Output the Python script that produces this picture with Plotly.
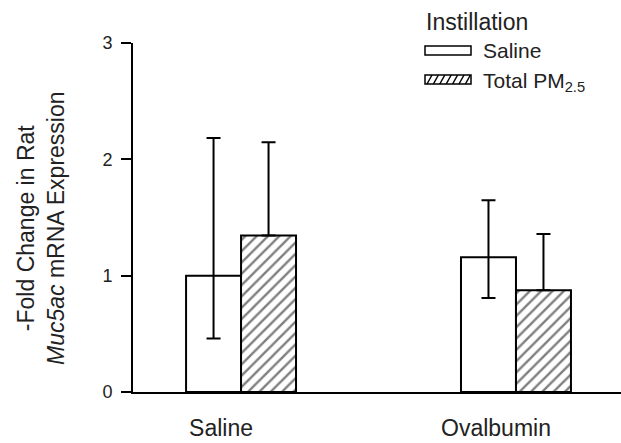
import plotly.graph_objects as go

categories = ["Saline", "Ovalbumin"]
series_names = ["Saline", "Total PM<sub>2.5</sub>"]
saline_vals = [1.00, 1.158]
saline_err_plus = [1.184, 0.49]
saline_err_minus = [0.54, 0.349]
pm_vals = [1.345, 0.875]
pm_err_plus = [0.801, 0.484]
pm_err_minus = [0.0, 0.0]
y_ticks = [0, 1, 2, 3]

FONT = "Liberation Sans, Arial, Helvetica, sans-serif"

fig = go.Figure()
fig.add_trace(go.Bar(
    x=categories, y=saline_vals, name=series_names[0],
    marker=dict(color="white", line=dict(color="black", width=2)),
    error_y=dict(type="data", array=saline_err_plus, arrayminus=saline_err_minus,
                 symmetric=False, color="black", thickness=2, width=7),
    showlegend=False,
))
fig.add_trace(go.Bar(
    x=categories, y=pm_vals, name=series_names[1],
    marker=dict(color="white", line=dict(color="black", width=2),
                pattern=dict(shape="/", fgcolor="black", bgcolor="white", size=8, solidity=0.3)),
    error_y=dict(type="data", array=pm_err_plus, arrayminus=pm_err_minus,
                 symmetric=False, color="black", thickness=2, width=7),
    showlegend=False,
))

L, T, B = 133, 43, 51
W, H = 621, 443
pw, ph = W - L, H - T - B

def px(x):
    return (x - L) / pw

def py(y):
    return (H - B - y) / ph

shapes = []
# legend swatches
shapes.append(dict(type="rect", xref="paper", yref="paper", x0=px(425), x1=px(471), y0=py(55), y1=py(46),
                   line=dict(color="black", width=1.5), fillcolor="white"))
shapes.append(dict(type="rect", xref="paper", yref="paper", x0=px(425), x1=px(471), y0=py(84), y1=py(75),
                   line=dict(color="black", width=1.5), fillcolor="white"))
for i in range(7):
    x0 = 427 + i * 6.4
    shapes.append(dict(type="line", xref="paper", yref="paper", x0=px(x0), x1=px(x0 + 5), y0=py(84), y1=py(75),
                       line=dict(color="black", width=1.5)))

annotations = [
    dict(text="Instillation", xref="paper", yref="paper", x=px(424), y=py(22), xanchor="left", yanchor="middle",
         showarrow=False, font=dict(size=23, color="#222", family=FONT)),
    dict(text=series_names[0], xref="paper", yref="paper", x=px(481), y=py(51), xanchor="left", yanchor="middle",
         showarrow=False, font=dict(size=21, color="#222", family=FONT)),
    dict(text="Total PM<sub>2.5</sub>", xref="paper", yref="paper", x=px(481), y=py(82), xanchor="left", yanchor="middle",
         showarrow=False, font=dict(size=21, color="#222", family=FONT)),
    dict(text="-Fold Change in Rat<br><i>Muc5ac</i> mRNA Expression", xref="paper", yref="paper",
         x=px(41), y=py(228), xanchor="center", yanchor="middle", textangle=-90,
         showarrow=False, font=dict(size=23, color="#222", family=FONT)),
]

fig.update_layout(
    width=W, height=H,
    margin=dict(l=L, r=0, t=T, b=B, pad=0),
    paper_bgcolor="white", plot_bgcolor="white",
    barmode="group", bargap=0.6, bargroupgap=0,
    font=dict(family=FONT, color="#222"),
    shapes=shapes, annotations=annotations,
    xaxis=dict(type="category", range=[-0.393, 1.382], showline=True, linecolor="black", linewidth=2,
               ticks="", showgrid=False, zeroline=False, tickfont=dict(size=23, color="#222"),
               ticklabelshift=-20, ticklabelstandoff=14),
    yaxis=dict(range=[0, 3], tickvals=y_ticks, showline=True, linecolor="black", linewidth=2,
               ticks="outside", ticklen=10, tickwidth=2, tickcolor="black", showgrid=False, zeroline=False,
               tickfont=dict(size=18, color="#222"), ticklabelstandoff=5),
)

fig.write_html("out.html")
